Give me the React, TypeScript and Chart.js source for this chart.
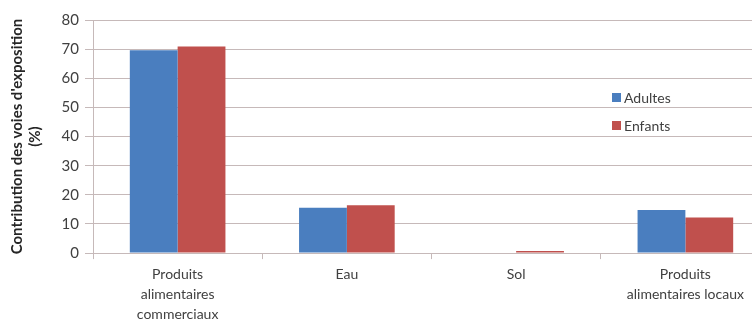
import React, { useEffect, useRef } from "react";
import { Chart, registerables } from "chart.js";

Chart.register(...registerables);

const categories: string[][] = [
  ["Produits", "alimentaires", "commerciaux"],
  ["Eau"],
  ["Sol"],
  ["Produits", "alimentaires locaux"],
];
const seriesNames = ["Adultes", "Enfants"];
const adultes = [69.6, 15.6, 0, 14.8];
const enfants = [70.9, 16.4, 0.7, 12.2];
const yTicks = [0, 10, 20, 30, 40, 50, 60, 70, 80];
const yTitle = ["Contribution des voies d'exposition", "(%)"];

const FONT = "Lato, 'Open Sans', sans-serif";
const TEXT = "#404040";
const GRID = "#c6b9b9";

const innerLegend = {
  id: "innerLegend",
  afterDraw(chart: any) {
    const ctx = chart.ctx;
    const area = chart.chartArea;
    const x0 = area.left + 519;
    const y0 = area.top + 77;
    ctx.save();
    ctx.font = `14px ${FONT}`;
    ctx.textBaseline = "middle";
    chart.data.datasets.forEach((ds: any, i: number) => {
      const y = y0 + i * 28;
      ctx.fillStyle = ds.backgroundColor;
      ctx.fillRect(x0, y - 4, 9, 9);
      ctx.fillStyle = TEXT;
      ctx.fillText(ds.label, x0 + 12, y + 1);
    });
    ctx.restore();
  },
};

export default function App() {
  const ref = useRef<HTMLCanvasElement>(null);
  useEffect(() => {
    if (!ref.current) return;
    const chart = new Chart(ref.current, {
      type: "bar",
      data: {
        labels: categories,
        datasets: [
          { label: seriesNames[0], data: adultes, backgroundColor: "#4a7ebf" },
          { label: seriesNames[1], data: enfants, backgroundColor: "#c0504d" },
        ],
      },
      options: {
        animation: false,
        responsive: false,
        maintainAspectRatio: false,
        layout: { padding: { top: 20, left: 8, right: 0, bottom: 0 } },
        plugins: { legend: { display: false }, tooltip: { enabled: false } },
        datasets: { bar: { barPercentage: 1, categoryPercentage: 0.565 } },
        scales: {
          x: {
            grid: {
              offset: true,
              drawOnChartArea: false,
              drawTicks: true,
              tickLength: 6,
              color: GRID,
            },
            border: { color: GRID },
            ticks: {
              color: TEXT,
              font: { family: FONT, size: 14, lineHeight: 1.45 },
              maxRotation: 0,
              autoSkip: false,
              padding: 5,
            },
          },
          y: {
            min: 0,
            max: 80,
            afterBuildTicks: (scale: any) => {
              scale.ticks = yTicks.map((v) => ({ value: v }));
            },
            afterFit: (scale: any) => {
              scale.width = 85;
            },
            grid: { color: GRID, tickLength: 8 },
            border: { color: GRID },
            ticks: {
              color: TEXT,
              font: { family: FONT, size: 15 },
              padding: 6,
            },
            title: {
              display: true,
              text: yTitle,
              color: "#262626",
              font: { family: FONT, size: 15, weight: "bold", lineHeight: 1.2 },
              padding: { top: 0, bottom: 0 },
            },
          },
        },
      },
      plugins: [innerLegend],
    } as any);
    return () => chart.destroy();
  }, []);
  return (
    <div style={{ position: "fixed", left: 0, top: 0, width: 770, height: 330, background: "#fff" }}>
      <canvas ref={ref} width={770} height={330} style={{ width: 770, height: 330 }} />
    </div>
  );
}
